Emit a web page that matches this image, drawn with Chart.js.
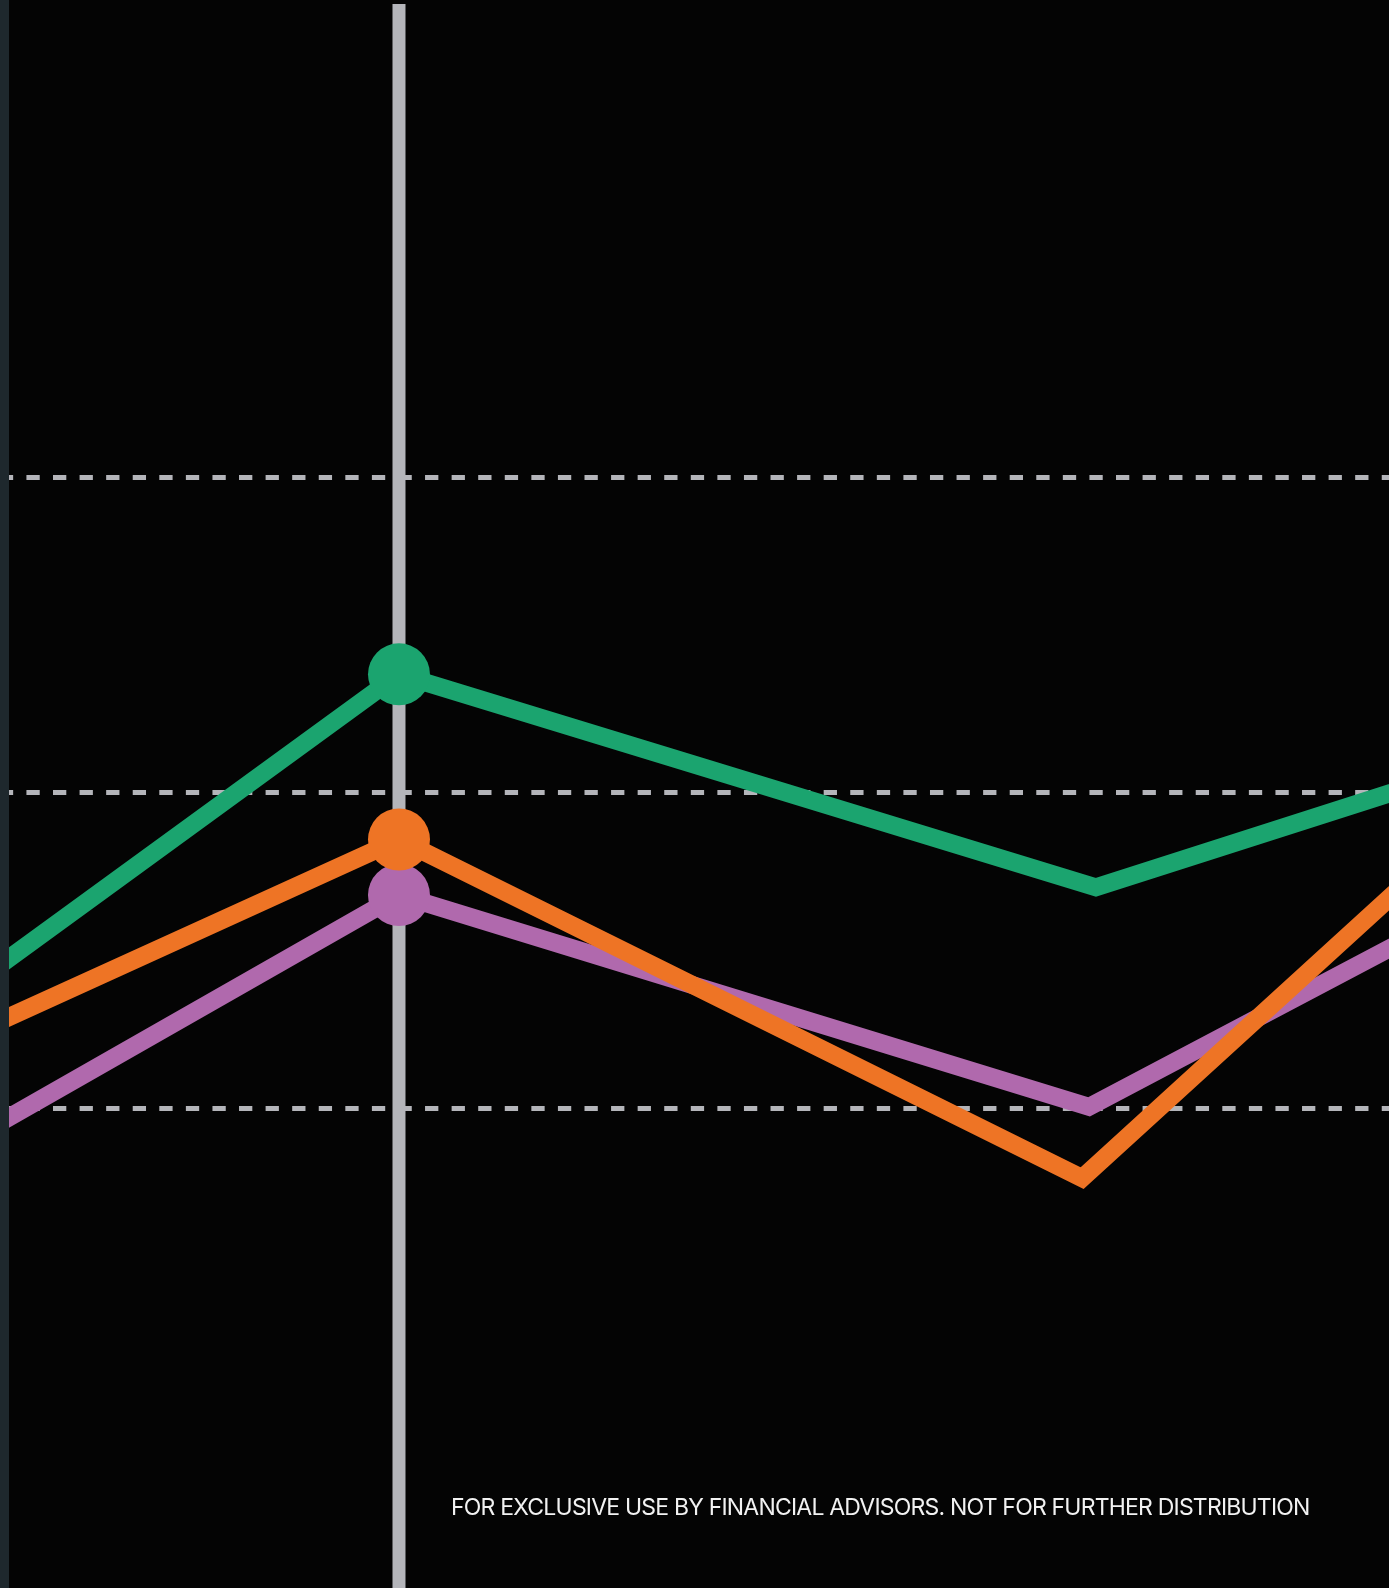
<!DOCTYPE html>
<html>
<head>
<meta charset="utf-8">
<script src="https://cdn.jsdelivr.net/npm/chart.js@4.4.1/dist/chart.umd.min.js"></script>
<style>
    html, body { margin: 0; padding: 0; background: #040404; }
    body { width: 1389px; height: 1588px; position: relative; overflow: hidden; }
    .edge { position: absolute; left: 0; top: 0; width: 9px; height: 1588px; background: #1e282d; }
    .plot { position: absolute; left: 9px; top: 0; width: 1380px; height: 1588px; }
    .note {
        position: absolute; left: 451px; top: 1493px;
        font-family: Inter, "Liberation Sans", sans-serif; font-size: 23px;
        letter-spacing: -0.8px; color: #f2f2f2; white-space: nowrap;
    }
</style>
</head>
<body>
<div class="edge"></div>
<div class="plot"><canvas id="lineChart"></canvas></div>
<div class="note">FOR EXCLUSIVE USE BY FINANCIAL ADVISORS. NOT FOR FURTHER DISTRIBUTION</div>
<script>
// === Data (first and last points sit outside the visible crop) ===
const greenX = [0, 1, 2.01, 3];
const greenY = [-1.09, 6.88, 3.50, 6.97];

const orangeX = [0, 1, 1.99, 3];
const orangeY = [-0.72, 4.26, -1.11, 8.97];

const purpleX = [0, 1, 2.0, 3];
const purpleY = [-2.86, 3.38, 0.02, 5.79];

const gridValues = [0, 5, 10];   // dashed reference lines
const markerX = 1;                // highlighted date

// visible window of the crop
const X_MIN = 0.4348, X_MAX = 2.4348;
const Y_MIN = -7.61, Y_MAX = 17.51;

const toPoints = (xs, ys) => xs.map((x, i) => ({ x: x, y: ys[i] }));

// vertical marker behind the lines
const markerLine = {
    id: 'markerLine',
    beforeDatasetsDraw(chart) {
        const { ctx, chartArea, scales } = chart;
        const px = scales.x.getPixelForValue(markerX);
        ctx.save();
        ctx.fillStyle = '#b4b5ba';
        ctx.fillRect(px - 6.5, chartArea.top, 13, chartArea.bottom - chartArea.top);
        ctx.restore();
    }
};

const lineStyle = (color, order) => ({
    borderColor: color,
    backgroundColor: color,
    borderWidth: 18,
    borderJoinStyle: 'miter',
    pointRadius: c => (c.raw && c.raw.x === markerX ? 31 : 0),
    pointBorderWidth: 0,
    pointHoverRadius: 0,
    fill: false,
    tension: 0,
    order: order
});

const ctx = document.getElementById('lineChart').getContext('2d');
new Chart(ctx, {
    type: 'line',
    data: {
        datasets: [
            { label: 'Orange', data: toPoints(orangeX, orangeY), ...lineStyle('#ee7425', 0) },
            { label: 'Green', data: toPoints(greenX, greenY), ...lineStyle('#1ba46f', 1) },
            { label: 'Purple', data: toPoints(purpleX, purpleY), ...lineStyle('#b069ad', 2) }
        ]
    },
    options: {
        responsive: true,
        maintainAspectRatio: false,
        animation: false,
        events: [],
        layout: { padding: { top: 4, left: 0, right: 0, bottom: 0 } },
        scales: {
            x: {
                type: 'linear',
                min: X_MIN,
                max: X_MAX,
                display: false
            },
            y: {
                type: 'linear',
                min: Y_MIN,
                max: Y_MAX,
                afterBuildTicks: axis => { axis.ticks = gridValues.map(v => ({ value: v })); },
                ticks: { display: false },
                // v4 takes the grid dash from border options
                border: { display: false, dash: [13.3, 13.275], dashOffset: 9.15 },
                grid: {
                    color: '#b4b5ba',
                    lineWidth: 5,
                    drawTicks: false
                }
            }
        },
        plugins: {
            legend: { display: false },
            tooltip: { enabled: false }
        }
    },
    plugins: [markerLine]
});
</script>
</body>
</html>
